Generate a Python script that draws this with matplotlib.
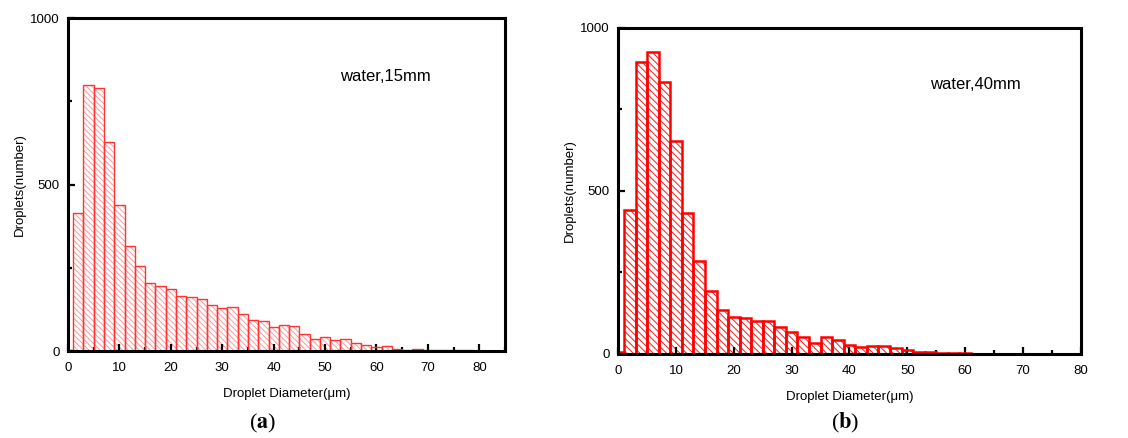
import numpy as np
import matplotlib
matplotlib.use('Agg')
import matplotlib.pyplot as plt
from matplotlib.ticker import MultipleLocator

plt.rcParams['font.family'] = ['Liberation Sans', 'DejaVu Sans']
plt.rcParams['mathtext.fontset'] = 'stix'

# bin centres (um) and counts
centers_a = np.arange(0, 80, 2)
counts_a = [3, 415, 800, 790, 628, 437, 314, 255, 204, 196,
            187, 165, 162, 157, 139, 128, 133, 110, 93, 91,
            72, 77, 75, 51, 36, 41, 32, 36, 23, 17,
            11, 16, 6, 4, 5, 2, 4, 3, 3, 2]

centers_b = np.arange(0, 72, 2)
counts_b = [5, 440, 895, 926, 834, 653, 431, 285, 192, 136,
            113, 110, 102, 101, 82, 66, 53, 33, 53, 42,
            27, 21, 24, 24, 17, 11, 5, 5, 2, 2,
            2, 0, 0, 1, 0, 1]

labels = ['water,15mm', 'water,40mm']
panel_tags = ['a', 'b']

fig = plt.figure(figsize=(11.28, 4.38), dpi=100)
ax_a = fig.add_axes([0.0603, 0.1986, 0.3874, 0.7603])
ax_b = fig.add_axes([0.5481, 0.1918, 0.4100, 0.7450])


def style_axes(ax, xmax):
    ax.set_xlim(0, xmax)
    ax.set_ylim(0, 1000)
    ax.xaxis.set_major_locator(MultipleLocator(10))
    ax.xaxis.set_minor_locator(MultipleLocator(5))
    ax.yaxis.set_major_locator(MultipleLocator(500))
    ax.yaxis.set_minor_locator(MultipleLocator(250))
    ax.tick_params(which='both', direction='in', top=False, right=False,
                   width=1.6, labelsize=9.5)
    ax.tick_params(axis='x', pad=8)
    ax.tick_params(axis='y', pad=6)
    ax.tick_params(which='major', length=5)
    ax.tick_params(which='minor', length=3.2)
    for sp in ax.spines.values():
        sp.set_linewidth(2.2)
    ax.set_xlabel('Droplet Diameter(μm)', fontsize=9.5, labelpad=10)
    ax.set_ylabel('Droplets(number)', fontsize=9.5, labelpad=3)


# panel (a): light hatch, thin edges
plt.rcParams['hatch.linewidth'] = 0.7
ax_a.bar(centers_a, counts_a, width=2, color='none', edgecolor='#ff9a9a',
         linewidth=0, hatch='\\\\\\\\\\\\', zorder=1)
ax_a.bar(centers_a, counts_a, width=2, color='none', edgecolor='#ff3333',
         linewidth=1.0, zorder=2)
style_axes(ax_a, 85)
ax_a.text(53, 825, labels[0], fontsize=12, va='center', ha='left')

# panel (b): strong hatch, thick edges
ax_b.bar(centers_b, counts_b, width=2, color='none', edgecolor='#ff1a1a',
         linewidth=0, hatch='\\\\\\\\\\', zorder=1)
ax_b.bar(centers_b, counts_b, width=2, color='none', edgecolor='#ff0000',
         linewidth=1.8, zorder=2)
style_axes(ax_b, 80)
ax_b.text(54, 825, labels[1], fontsize=12, va='center', ha='left')

fig.text(0.233, 0.034, r'($\mathbf{%s}$)' % panel_tags[0], fontsize=16,
         family='Liberation Serif', ha='center', va='center')
fig.text(0.749, 0.034, r'($\mathbf{%s}$)' % panel_tags[1], fontsize=16,
         family='Liberation Serif', ha='center', va='center')

fig.savefig('out.png', dpi=100)
